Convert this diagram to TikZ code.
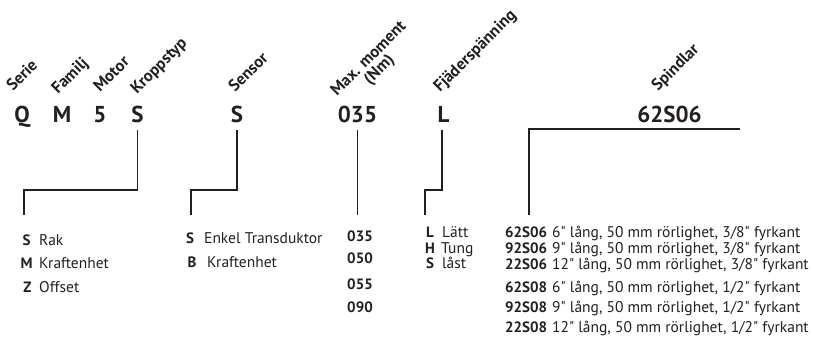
\documentclass[tikz,border=0pt]{standalone}
\usepackage{fontspec}
\setmainfont{PT Sans}
\usetikzlibrary{calc,positioning}
\definecolor{ink}{HTML}{231F20}
\newcommand{\inch}{\textquotedbl}
\tikzset{
  code/.style={font=\bfseries\fontsize{23}{23}\selectfont,text=ink,inner sep=0pt,anchor=base},
  field/.style={font=\bfseries\fontsize{16.5}{17}\selectfont,text=ink,inner sep=0pt,anchor=base west,rotate=45},
  key/.style={font=\bfseries\fontsize{15}{16}\selectfont,text=ink,inner sep=0pt,anchor=base},
  desc/.style={font=\fontsize{15.5}{16}\selectfont,text=ink,inner sep=0pt,anchor=base west},
  lead/.style={line width=1.7pt,draw=ink}
}
\begin{document}
\begin{tikzpicture}[x=1pt,y=1pt]
  \useasboundingbox (0,0) rectangle (814,354);
  % code letters
  \node[code] (serie) at (22,231) {Q};
  \node[code] (familj) at (62,231) {M};
  \node[code] (motor) at (100,231) {5};
  \node[code] (kropp) at (137.5,231) {S};
  \node[code] (sensor) at (237,231) {S};
  \node[code] (torque) at (357.5,231) {035};
  \node[code] (spring) at (443.5,231) {L};
  \node[code] (spindle) at (669.5,231) {62S06};
  % field names
  \node[field] (serieLab) at (13,262) {Serie};
  \node[field] (familjLab) at (58,259) {Familj};
  \node[field] (motorLab) at (100,261) {Motor};
  \node[field] (kroppLab) at (137,259) {Kroppstyp};
  \node[field] (sensorLab) at (235,261) {Sensor};
  \node[field] (torqueLab) at (337,257) {Max. moment};
  \node[field,anchor=base] (torqueUnit) at ($(torqueLab.base)+(10.6,-10.6)$) {(Nm)};
  \node[field] (springLab) at (440,261) {Fjäderspänning};
  \node[field] (spindleLab) at (658,262) {Spindlar};
  % leader ends
  \coordinate (kroppEnd) at (24,139);
  \coordinate (sensorEnd) at (191,139);
  \coordinate (torqueEnd) at (357.5,139);
  \coordinate (springEnd) at (425,139);
  \coordinate (spindleEnd) at (529,139);
  \draw[lead] ([yshift=-7pt]kropp.base) -- ++(0,-60) -| (kroppEnd);
  \draw[lead] ([yshift=-7pt]sensor.base) -- ++(0,-60) -| (sensorEnd);
  \draw[lead] ([yshift=-7pt]torque.base) -- (torqueEnd);
  \draw[lead] ([xshift=-1.5pt,yshift=-7pt]spring.base) -- ++(0,-60) -| (springEnd);
  \draw[lead] ([xshift=70pt,yshift=-6pt]spindle.base) -| (spindleEnd);
  % Kroppstyp
  \node[key] (kroppS) at (26.5,109) {S};
  \node[desc] at (39,109) {Rak};
  \node[key] (kroppM) at (26.5,86) {M};
  \node[desc] at (39,86) {Kraftenhet};
  \node[key] (kroppZ) at (27.5,62) {Z};
  \node[desc] at (39,62) {Offset};
  % Sensor
  \node[key] (sensorS) at (190,111) {S};
  \node[desc] at (204,111) {Enkel Transduktor};
  \node[key] (sensorB) at (192,87) {B};
  \node[desc] at (207,87) {Kraftenhet};
  % Max. moment
  \node[key] (t035) at (360,113) {035};
  \node[key] (t050) at (360,91) {050};
  \node[key] (t055) at (360,65) {055};
  \node[key] (t090) at (360,42) {090};
  % Fjaderspanning
  \node[key] (springL) at (430,117) {L};
  \node[desc] at (442,117) {Lätt};
  \node[key] (springH) at (430,101) {H};
  \node[desc] at (441,101) {Tung};
  \node[key] (springS) at (430,86) {S};
  \node[desc] at (442,86) {låst};
  % Spindlar
  \foreach \sp/\txt/\yy in {62S06/{6\inch{} lång, 50 mm rörlighet, 3/8\inch{} fyrkant}/117,
                            92S06/{9\inch{} lång, 50 mm rörlighet, 3/8\inch{} fyrkant}/101,
                            22S06/{12\inch{} lång, 50 mm rörlighet, 3/8\inch{} fyrkant}/85,
                            62S08/{6\inch{} lång, 50 mm rörlighet, 1/2\inch{} fyrkant}/62,
                            92S08/{9\inch{} lång, 50 mm rörlighet, 1/2\inch{} fyrkant}/42,
                            22S08/{12\inch{} lång, 50 mm rörlighet, 1/2\inch{} fyrkant}/22}{
    \node[key,anchor=base west] (sp\sp) at (505,\yy) {\sp};
    \node[desc] at (552,\yy) {\txt};
  }
\end{tikzpicture}
\end{document}
